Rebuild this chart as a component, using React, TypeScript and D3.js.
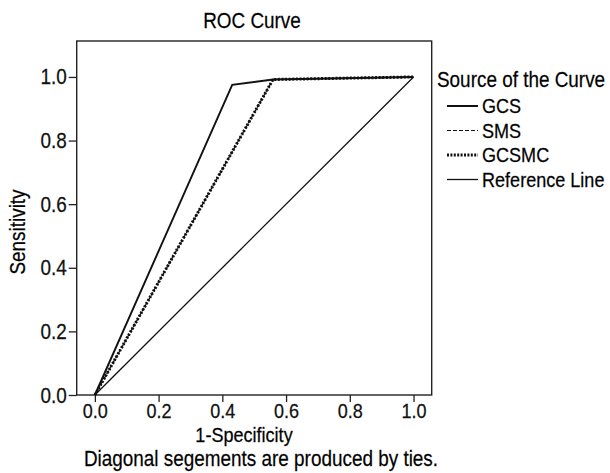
import React, { useEffect, useRef } from "react";
import * as d3 from "d3";

// ROC curve points (1-specificity, sensitivity)
const gcsX = [0, 0.431, 0.559, 1];
const gcsY = [0, 0.975, 0.992, 1];
const smsX = [0, 0.559, 1];
const smsY = [0, 0.992, 1];
const gcsmcX = [0, 0.559, 1];
const gcsmcY = [0, 0.992, 1];
const refX = [0, 1];
const refY = [0, 1];

const tickValues = [0, 0.2, 0.4, 0.6, 0.8, 1.0];
const legendLabels = ["GCS", "SMS", "GCSMC", "Reference Line"];

const width = 610;
const height = 473;
const FONT = "'Liberation Sans', Arial, sans-serif";
const SQUEEZE = 0.86; // the reference uses a condensed face

export default function App() {
  const ref = useRef<SVGSVGElement>(null);

  useEffect(() => {
    const svg = d3.select(ref.current);
    svg.selectAll("*").remove();

    // scales
    const x = d3.scaleLinear().domain([-0.057, 1.057]).range([76.7, 431.7]);
    const y = d3.scaleLinear().domain([0, 1.113]).range([395, 41]);

    // frame
    svg
      .append("rect")
      .attr("x", x(-0.057))
      .attr("y", y(1.113))
      .attr("width", x(1.057) - x(-0.057))
      .attr("height", y(0) - y(1.113))
      .attr("fill", "none")
      .attr("stroke", "#222")
      .attr("stroke-width", 1.4);

    // axes
    const fmt = d3.format(".1f");
    const gx = svg
      .append("g")
      .attr("transform", `translate(0, ${y(0)})`)
      .call(d3.axisBottom(x).tickValues(tickValues).tickFormat(fmt).tickSize(7).tickPadding(1));
    const gy = svg
      .append("g")
      .attr("transform", `translate(${x(-0.057)}, 0)`)
      .call(d3.axisLeft(y).tickValues(tickValues).tickFormat(fmt).tickSize(8).tickPadding(2));
    [gx, gy].forEach((g, i) => {
      g.select(".domain").remove();
      g.selectAll("line").attr("stroke", "#222").attr("stroke-width", 1.3);
      g.selectAll("text")
        .attr("fill", "#111")
        .style("font-family", FONT)
        .style("font-size", i === 0 ? "21px" : "22px");
    });

    // curves
    const line = d3
      .line<[number, number]>()
      .x((d) => x(d[0]))
      .y((d) => y(d[1]));
    const zip = (xs: number[], ys: number[]) =>
      xs.map((v, i) => [v, ys[i]] as [number, number]);

    const series = [
      { pts: zip(refX, refY), w: 1.3, dash: null },
      { pts: zip(gcsX, gcsY), w: 1.9, dash: null },
      { pts: zip(smsX, smsY), w: 1.3, dash: "4,2" },
      { pts: zip(gcsmcX, gcsmcY), w: 3, dash: "2,1.6" },
    ];
    series.forEach((s) => {
      svg
        .append("path")
        .attr("d", line(s.pts))
        .attr("fill", "none")
        .attr("stroke", "#111")
        .attr("stroke-width", s.w)
        .attr("stroke-dasharray", s.dash);
    });

    // titles
    svg
      .append("text")
      .attr("x", 252)
      .attr("y", 28)
      .attr("text-anchor", "middle")
      .style("font-family", FONT)
      .style("font-size", "22px")
      .text("ROC Curve");
    svg
      .append("text")
      .attr("transform", "translate(25, 232) rotate(-90)")
      .attr("text-anchor", "middle")
      .style("font-family", FONT)
      .style("font-size", "22px")
      .text("Sensitivity");
    svg
      .append("text")
      .attr("x", 244)
      .attr("y", 441.5)
      .attr("text-anchor", "middle")
      .style("font-family", FONT)
      .style("font-size", "21px")
      .text("1-Specificity");
    svg
      .append("text")
      .attr("x", 261)
      .attr("y", 466)
      .attr("text-anchor", "middle")
      .style("font-family", FONT)
      .style("font-size", "22px")
      .text("Diagonal segements are produced by ties.");

    // legend
    const lg = svg.append("g");
    lg.append("text")
      .attr("x", 437)
      .attr("y", 87)
      .style("font-family", FONT)
      .style("font-size", "22px")
      .text("Source of the Curve");
    const legendStyles = [
      { w: 2, dash: null },
      { w: 1.2, dash: "4,2" },
      { w: 3, dash: "2,1.4" },
      { w: 1.3, dash: null },
    ];
    legendLabels.forEach((lab, i) => {
      const yy = 106 + i * 24.5;
      lg.append("line")
        .attr("x1", 447)
        .attr("x2", 478)
        .attr("y1", yy)
        .attr("y2", yy)
        .attr("stroke", "#111")
        .attr("stroke-width", legendStyles[i].w)
        .attr("stroke-dasharray", legendStyles[i].dash);
      lg.append("text")
        .attr("x", 482)
        .attr("y", yy + 7)
        .style("font-family", FONT)
        .style("font-size", "21px")
        .text(lab);
    });

    // condense every text horizontally around its anchor point
    svg.selectAll<SVGTextElement, unknown>("text").each(function () {
      const t = d3.select(this);
      const tx = +(t.attr("x") || 0);
      const ty = +(t.attr("y") || 0);
      const prev = t.attr("transform") || "";
      t.attr("x", 0)
        .attr("y", 0)
        .attr("transform", `${prev} translate(${tx},${ty}) scale(${SQUEEZE},1)`)
        .attr("stroke", "#111")
        .attr("stroke-width", 0.25);
    });
  }, []);

  return (
    <svg
      ref={ref}
      width={width}
      height={height}
      style={{ position: "absolute", left: 0, top: 0, background: "#fff" }}
    />
  );
}
